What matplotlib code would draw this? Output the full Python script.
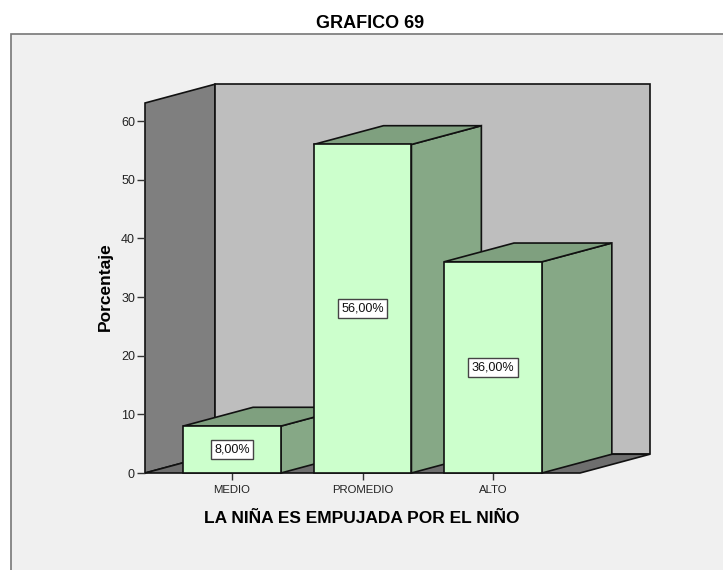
import matplotlib
matplotlib.use('Agg')
import matplotlib.pyplot as plt
from matplotlib.patches import Polygon, Rectangle

plt.rcParams['font.family'] = ['Liberation Sans', 'DejaVu Sans']

categories = ['MEDIO', 'PROMEDIO', 'ALTO']
percent = [8.0, 56.0, 36.0]
percent_labels = ['8,00%', '56,00%', '36,00%']
y_ticks = [0, 10, 20, 30, 40, 50, 60]

W, H = 723, 570
fig = plt.figure(figsize=(W / 100, H / 100), dpi=100, facecolor='white')

# gray chart panel, runs off the right and bottom of the image
fig.add_artist(Rectangle((11 / W, -0.01), 1.0, (H - 34) / H + 0.01, transform=fig.transFigure,
                         facecolor='#f0f0f0', edgecolor='#777777', linewidth=1.2, zorder=-1))

ax = fig.add_axes([145 / W, (H - 473) / H, 435 / W, 370 / H])
ax.set_xlim(-0.667, 2.667)
ax.set_ylim(0, 63.07)
ax.patch.set_visible(False)
for s in ax.spines.values():
    s.set_visible(False)

# oblique depth in data units
dx = 0.536
dy = 3.2
bar_w = 0.75
x0, x1 = ax.get_xlim()
y_top = ax.get_ylim()[1]


def poly(pts, color, z):
    ax.add_patch(Polygon(pts, closed=True, facecolor=color, edgecolor='#111111',
                         linewidth=1.2, joinstyle='miter', clip_on=False, zorder=z))


# walls and floor
poly([(x0, 0), (x0 + dx, dy), (x0 + dx, y_top + dy), (x0, y_top)], '#7f7f7f', 1)
poly([(x0 + dx, dy), (x1 + dx, dy), (x1 + dx, y_top + dy), (x0 + dx, y_top + dy)], '#bebebe', 1)
poly([(x0, 0), (x1, 0), (x1 + dx, dy), (x0 + dx, dy)], '#6e6e6e', 2)

# bars, left to right so the nearer one covers the side of the previous
for i, v in enumerate(percent):
    l, r = i - bar_w / 2, i + bar_w / 2
    z = 3 + i
    poly([(r, 0), (r + dx, dy), (r + dx, v + dy), (r, v)], '#86a886', z)
    poly([(l, v), (r, v), (r + dx, v + dy), (l + dx, v + dy)], '#7fa07f', z)
    poly([(l, 0), (r, 0), (r, v), (l, v)], '#ccffcc', z)
    ax.text(i, v / 2, percent_labels[i], ha='center', va='center', fontsize=9.1, color='#111111',
            zorder=z + 0.5, bbox=dict(boxstyle='square,pad=0.27', facecolor='white',
                                      edgecolor='#444444', linewidth=1.0))

ax.set_xticks(range(len(categories)))
ax.set_xticklabels(categories)
ax.set_yticks(y_ticks)
ax.tick_params(axis='x', length=5, width=1, color='#333333', labelsize=8.2, labelcolor='#222222', pad=3.5)
ax.tick_params(axis='y', length=6, width=1, color='#333333', labelsize=9, labelcolor='#222222', pad=1.2)

ax.set_xlabel('LA NIÑA ES EMPUJADA POR EL NIÑO', fontsize=12.5, fontweight='bold', labelpad=12, x=0.499)
ax.set_ylabel('Porcentaje', fontsize=12.5, fontweight='bold', labelpad=5.5, y=0.505)
fig.text(370.5 / W, (H - 23) / H, 'GRAFICO 69', ha='center', va='center', fontsize=13, fontweight='bold')

fig.savefig('out.png', dpi=100)
